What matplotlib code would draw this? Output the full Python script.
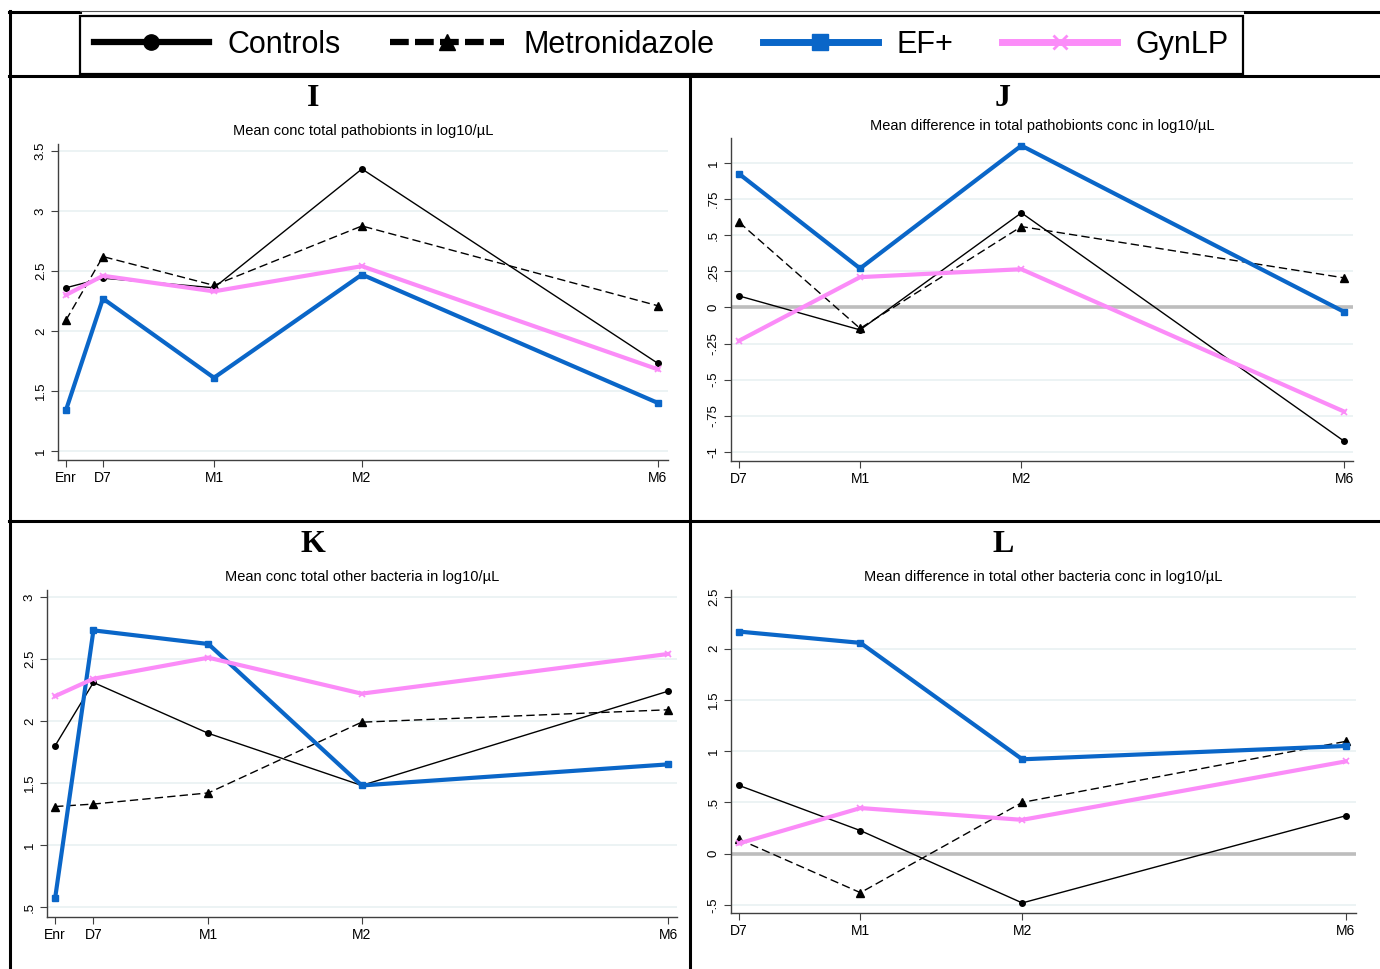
import matplotlib.pyplot as plt
from matplotlib.lines import Line2D

plt.rcParams['font.family'] = ['Liberation Sans', 'DejaVu Sans']

# Datos (semanas: Enr=0, D7=1, M1=4, M2=8, M6=16)
t_full = [0, 1, 4, 8, 16]
lab_full = ['Enr', 'D7', 'M1', 'M2', 'M6']
t_diff = [1, 4, 8, 16]
lab_diff = ['D7', 'M1', 'M2', 'M6']

# I: concentración media de patobiontes
ctrl_I = [2.36, 2.44, 2.36, 3.35, 1.73]
metro_I = [2.09, 2.62, 2.38, 2.875, 2.21]
ef_I = [1.34, 2.27, 1.61, 2.47, 1.40]
gyn_I = [2.30, 2.46, 2.33, 2.54, 1.68]

# J: diferencia media de patobiontes
ctrl_J = [0.08, -0.155, 0.655, -0.925]
metro_J = [0.59, -0.145, 0.56, 0.205]
ef_J = [0.925, 0.27, 1.12, -0.03]
gyn_J = [-0.23, 0.21, 0.265, -0.72]

# K: concentración media de otras bacterias
ctrl_K = [1.80, 2.31, 1.90, 1.48, 2.24]
metro_K = [1.31, 1.33, 1.42, 1.99, 2.09]
ef_K = [0.57, 2.73, 2.62, 1.48, 1.65]
gyn_K = [2.20, 2.34, 2.51, 2.22, 2.54]

# L: diferencia media de otras bacterias
ctrl_L = [0.665, 0.225, -0.48, 0.37]
metro_L = [0.14, -0.38, 0.50, 1.095]
ef_L = [2.165, 2.055, 0.92, 1.05]
gyn_L = [0.10, 0.445, 0.33, 0.90]

BLUE = '#0a66c8'
PINK = '#fb8cf8'

W, H = 1380, 969
fig = plt.figure(figsize=(13.8, 9.69), dpi=100)


def panel(rect, t, labels, series, yticks, ylabels, ylim, xlim, letter, letter_xy,
          subtitle, sub_y, zero=False):
    ax = fig.add_axes(rect)
    for yv in yticks:
        ax.axhline(yv, color='#eaf2f3', lw=1.3, zorder=0)
    if zero:
        ax.axhline(0, color='#bdbdbd', lw=2.6, zorder=1)
    c, m, e, g = series
    ax.plot(t, c, '-', color='black', lw=1, marker='o', ms=4, zorder=3)
    ax.plot(t, m, '--', color='black', lw=1, marker='^', ms=5.5, dashes=(6, 3), zorder=3)
    ax.plot(t, e, '-', color=BLUE, lw=3, marker='s', ms=5, zorder=4)
    ax.plot(t, g, '-', color=PINK, lw=3, marker='x', ms=5, mew=1.2, zorder=5)
    ax.set_xlim(*xlim)
    ax.set_ylim(*ylim)
    ax.set_xticks(t)
    ax.set_xticklabels(labels, fontsize=10)
    ax.set_yticks(yticks)
    ax.set_yticklabels(ylabels, fontsize=9.5, rotation=90, va='center')
    for s in ['top', 'right']:
        ax.spines[s].set_visible(False)
    for s in ['left', 'bottom']:
        ax.spines[s].set_color('#404040')
        ax.spines[s].set_linewidth(1)
    ax.tick_params(direction='out', length=5, width=0.8, color='#404040', pad=3)
    fig.text(letter_xy[0] / W, 1 - letter_xy[1] / H, letter, ha='center', va='center',
             fontsize=23, fontweight='bold', family=['Liberation Serif', 'DejaVu Serif'])
    fig.text(rect[0] + rect[2] * 0.5, sub_y, subtitle, ha='center', va='center',
             fontsize=10.5)
    return ax


panel([0.0420, 0.5253, 0.4420, 0.3261], t_full, lab_full,
      (ctrl_I, metro_I, ef_I, gyn_I),
      [1, 1.5, 2, 2.5, 3, 3.5], ['1', '1.5', '2', '2.5', '3', '3.5'],
      (0.925, 3.558), (-0.216, 16.27), 'I', (313, 99),
      'Mean conc total pathobionts in log10/µL', 0.8648)

panel([0.5297, 0.5243, 0.4507, 0.3333], t_diff, lab_diff,
      (ctrl_J, metro_J, ef_J, gyn_J),
      [-1, -0.75, -0.5, -0.25, 0, 0.25, 0.5, 0.75, 1],
      ['-1', '-.75', '-.5', '-.25', '0', '.25', '.5', '.75', '1'],
      (-1.062, 1.173), (0.80, 16.22), 'J', (1003, 99),
      'Mean difference in total pathobionts conc in log10/µL', 0.8700, zero=True)

panel([0.0341, 0.0537, 0.4565, 0.3375], t_full, lab_full,
      (ctrl_K, metro_K, ef_K, gyn_K),
      [0.5, 1, 1.5, 2, 2.5, 3], ['.5', '1', '1.5', '2', '2.5', '3'],
      (0.42, 3.056), (-0.21, 16.23), 'K', (313, 545),
      'Mean conc total other bacteria in log10/µL', 0.4045)

panel([0.5297, 0.0578, 0.4529, 0.3333], t_diff, lab_diff,
      (ctrl_L, metro_L, ef_L, gyn_L),
      [-0.5, 0, 0.5, 1, 1.5, 2, 2.5], ['-.5', '0', '.5', '1', '1.5', '2', '2.5'],
      (-0.578, 2.57), (0.80, 16.25), 'L', (1003, 545),
      'Mean difference in total other bacteria conc in log10/µL', 0.4045, zero=True)

# Leyenda común
handles = [
    Line2D([], [], color='black', lw=4.5, marker='o', ms=11),
    Line2D([], [], color='black', lw=4.5, ls='--', dashes=(3, 1), marker='^', ms=12),
    Line2D([], [], color=BLUE, lw=5, marker='s', ms=11),
    Line2D([], [], color=PINK, lw=5, marker='x', ms=10, mew=2),
]
leg = fig.legend(handles, ['Controls', 'Metronidazole', 'EF+', 'GynLP'],
                 loc='center', bbox_to_anchor=(661.5 / W, 1 - 45 / H), ncol=4,
                 fontsize=22, handlelength=3.75, handletextpad=0.62, columnspacing=1.6,
                 fancybox=False, edgecolor='black', framealpha=1, borderpad=0.45)
leg.get_frame().set_linewidth(1.6)


# Líneas de separación de los paneles
def hline(y, x0, x1, lw=2.2, color='black'):
    fig.add_artist(Line2D([x0 / W, x1 / W], [1 - y / H, 1 - y / H], color=color, lw=lw))


def vline(x, y0, y1, lw=2.2):
    fig.add_artist(Line2D([x / W, x / W], [1 - y0 / H, 1 - y1 / H], color='black', lw=lw))


hline(12, 9, 80)
hline(11, 80, 1245, lw=0.8, color='#555555')
hline(12, 1245, 1380)
hline(76, 9, 1380)
hline(521, 9, 1380)
vline(10, 11, 969)
vline(690, 76, 969)

fig.savefig('out.png', dpi=100)
